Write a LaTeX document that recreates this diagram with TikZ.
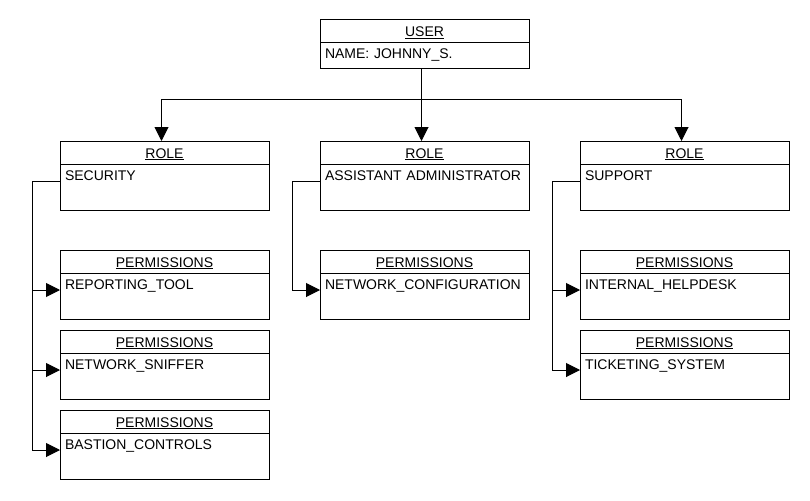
\documentclass[tikz,border=0pt]{standalone}
\usepackage{fontspec}
\setmainfont{Liberation Sans}
\usetikzlibrary{arrows.meta, positioning, calc}
\definecolor{lineColor}{RGB}{0, 0, 0}
\tikzset{
    x=1pt, y=-1pt,
    node distance=0pt,
    font=\fontsize{14}{16}\selectfont,
    % --- 基础块样式 ---
    baseBlock/.style={
        rectangle, draw=lineColor, line width=1pt, outer sep=0pt,
        inner xsep=5pt, inner ysep=0pt, text width=199pt
    },
    % 表头 (underlined title)
    styleHead/.style={
        baseBlock, align=center, text height=17pt, text depth=6pt
    },
    % 内容 (entry text, top left)
    styleBody/.style={
        baseBlock, align=left, text height=16pt, text depth=30pt
    },
    % --- 连线样式 ---
    conn/.style={
        draw=lineColor, line width=1pt,
        -{Triangle[length=14pt, width=14pt]}
    }
}
\begin{document}
\begin{tikzpicture}
	\useasboundingbox (0,0) rectangle (810,500);

	% =========================================================
	% 1. User
	% =========================================================
	\node [styleHead, anchor=north west] (user_h) at (320,20) {\underline{USER}};
	\node [styleBody, below=of user_h, text depth=10pt] (user_b) {NAME: JOHNNY\_S.};

	% =========================================================
	% 2. Roles
	% =========================================================
	\node [styleHead, anchor=north west] (r1_h) at (60,141) {\underline{ROLE}};
	\node [styleBody, below=of r1_h] (r1_b) {SECURITY};

	\node [styleHead, anchor=north west] (r2_h) at (320,141) {\underline{ROLE}};
	\node [styleBody, below=of r2_h] (r2_b) {ASSISTANT ADMINISTRATOR};

	\node [styleHead, anchor=north west] (r3_h) at (580,141) {\underline{ROLE}};
	\node [styleBody, below=of r3_h] (r3_b) {SUPPORT};

	% =========================================================
	% 3. Permissions
	% =========================================================
	% --- Col 1: Security ---
	\node [styleHead, below=40pt of r1_b] (p1a_h) {\underline{PERMISSIONS}};
	\node [styleBody, below=of p1a_h] (p1a_b) {REPORTING\_TOOL};
	\node [styleHead, below=11pt of p1a_b] (p1b_h) {\underline{PERMISSIONS}};
	\node [styleBody, below=of p1b_h] (p1b_b) {NETWORK\_SNIFFER};
	\node [styleHead, below=11pt of p1b_b] (p1c_h) {\underline{PERMISSIONS}};
	\node [styleBody, below=of p1c_h] (p1c_b) {BASTION\_CONTROLS};

	% --- Col 2: Assistant Administrator ---
	\node [styleHead, below=40pt of r2_b] (p2a_h) {\underline{PERMISSIONS}};
	\node [styleBody, below=of p2a_h] (p2a_b) {NETWORK\_CONFIGURATION};

	% --- Col 3: Support ---
	\node [styleHead, below=40pt of r3_b] (p3a_h) {\underline{PERMISSIONS}};
	\node [styleBody, below=of p3a_h] (p3a_b) {INTERNAL\_HELPDESK};
	\node [styleHead, below=11pt of p3a_b] (p3b_h) {\underline{PERMISSIONS}};
	\node [styleBody, below=of p3b_h] (p3b_b) {TICKETING\_SYSTEM};

	% =========================================================
	% 4. 连线
	% =========================================================
	\coordinate (bus) at (0,100);
	\foreach \i in {1,2,3} {
			\draw [conn] ([xshift=-3pt]user_b.south) -- ([xshift=-3pt]user_b.south |- bus) -| ([xshift=-3pt]r\i_h.north);
		}
	\foreach \r/\p in {1/p1a, 1/p1b, 1/p1c, 2/p2a, 3/p3a, 3/p3b} {
			\draw [conn] ([yshift=-17pt]r\r_b.north west) -- ++(-28pt,0) |- ([yshift=-17pt]\p_b.north west);
		}

\end{tikzpicture}
\end{document}
